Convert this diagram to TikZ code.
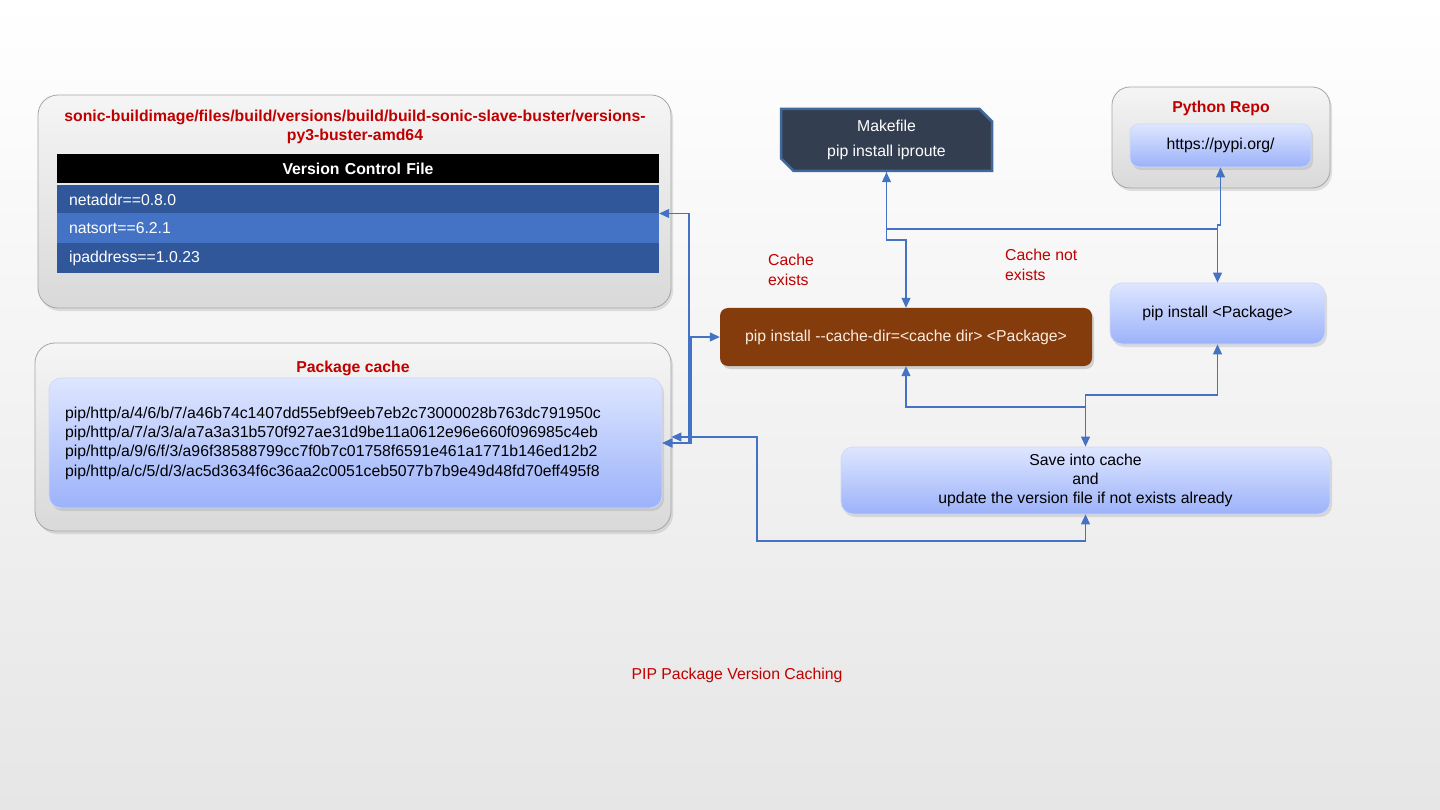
\documentclass[tikz,border=0pt]{standalone}
\usepackage{fontspec}
\setmainfont{Liberation Sans}
\usetikzlibrary{arrows.meta,shapes.misc,shadows}
\definecolor{myred}{HTML}{C00000}
\definecolor{linkblue}{HTML}{4472C4}
\definecolor{bgbot}{HTML}{E6E6E6}
\definecolor{graytop}{HTML}{F5F5F5}
\definecolor{graybot}{HTML}{D9D9D9}
\definecolor{grayline}{HTML}{A6A6A6}
\definecolor{bluetop}{HTML}{DEE6FF}
\definecolor{bluebot}{HTML}{9CB2FA}
\definecolor{blueline}{HTML}{CFD9F7}
\definecolor{rowdark}{HTML}{31579B}
\definecolor{rowlight}{HTML}{4472C4}
\definecolor{makefill}{HTML}{333F50}
\definecolor{makeline}{HTML}{41699E}
\definecolor{brown}{HTML}{843C0C}
\definecolor{peach}{HTML}{FCEBDD}
\begin{document}
\begin{tikzpicture}[x=1pt,y=-1pt,
  txt/.style={font=\fontsize{15.8}{19.3}\selectfont, inner sep=0pt},
  ttl/.style={font=\fontsize{15.8}{19}\selectfont\bfseries, text=myred, align=center, inner sep=0pt},
  lbl/.style={font=\fontsize{15.8}{20}\selectfont, text=myred, align=left, inner sep=0pt, anchor=west},
  graybox/.style={rounded corners=20pt, draw=grayline, line width=0.8pt, top color=graytop, bottom color=graybot,
    drop shadow={opacity=0.22, shadow xshift=2pt, shadow yshift=-3pt}},
  bluebox/.style={txt, rounded corners=12pt, draw=blueline, line width=0.8pt, top color=bluetop, bottom color=bluebot,
    drop shadow={opacity=0.22, shadow xshift=2pt, shadow yshift=-3pt}},
  rowbox/.style={txt, minimum width=602pt, text width=578pt, inner xsep=12pt, inner ysep=0pt, align=left, text=white},
  conn/.style={draw=linkblue, line width=1.1pt},
  >={Triangle[width=9pt,length=10pt]}
]
\useasboundingbox (0,0) rectangle (1440,810);
\shade[top color=white, bottom color=bgbot] (0,0) rectangle (1440,810);

% Version control file group
\node[graybox, minimum width=633pt, minimum height=213pt] (vouter) at (354.5,201.5) {};
\node[ttl] (vtitle) at (355,127) {sonic-buildimage/files/build/versions/build/build-sonic-slave-buster/versions-\\py3-buster-amd64};
\node[rowbox, fill=black, minimum height=29.5pt, align=center, font=\fontsize{15.8}{19}\selectfont\bfseries] (vhdr) at (358,168.75) {Version Control File};
\node[rowbox, fill=rowdark, minimum height=28pt] (vr1) at (358,199.5) {netaddr==0.8.0};
\node[rowbox, fill=rowlight, minimum height=29.5pt] (vr2) at (358,228.25) {natsort==6.2.1};
\node[rowbox, fill=rowdark, minimum height=30pt] (vr3) at (358,258) {ipaddress==1.0.23};
\node[minimum width=602pt, minimum height=119pt, inner sep=0pt] (vtable) at (358,213.5) {};

% Package cache group
\node[graybox, minimum width=636pt, minimum height=188pt] (pkgout) at (353,437) {};
\node[ttl] (pkgtitle) at (353,368.5) {Package cache};
\node[bluebox, minimum width=613pt, minimum height=130pt, text width=581pt, align=left] (pkgin) at (355.5,443) {pip/http/a/4/6/b/7/a46b74c1407dd55ebf9eeb7eb2c73000028b763dc791950c\\pip/http/a/7/a/3/a/a7a3a31b570f927ae31d9be11a0612e96e660f096985c4eb\\pip/http/a/9/6/f/3/a96f38588799cc7f0b7c01758f6591e461a1771b146ed12b2\\pip/http/a/c/5/d/3/ac5d3634f6c36aa2c0051ceb5077b7b9e49d48fd70eff495f8};

% Makefile
\node[chamfered rectangle, chamfered rectangle corners={north east,south west}, chamfered rectangle xsep=9pt,
  draw=makeline, line width=2.5pt, fill=makefill, minimum width=211pt, minimum height=62pt, inner sep=0pt,
  text=white, align=center, font=\fontsize{15.8}{25}\selectfont] (make) at (886.5,140) {\raisebox{-1.5pt}{Makefile}\\\raisebox{-1.5pt}{pip install iproute}};

% Python repo
\node[graybox, rounded corners=18pt, minimum width=218pt, minimum height=101pt] (repo) at (1221,137.5) {};
\node[ttl] (repotitle) at (1221,108) {Python Repo};
\node[bluebox, rounded corners=9pt, minimum width=181pt, minimum height=43pt] (pypi) at (1220.5,145.5) {https://pypi.org/};

% pip install
\node[bluebox, minimum width=215pt, minimum height=61pt] (pipinst) at (1217.5,313.5) {pip install <Package>};

% cache dir
\node[txt, rounded corners=8pt, fill=brown, text=peach, minimum width=372pt, minimum height=58pt,
  drop shadow={opacity=0.3, shadow xshift=2pt, shadow yshift=-3pt}] (cache) at (906,337) {pip install -{}-cache-dir=<cache dir> <Package>};

% save
\node[bluebox, minimum width=489pt, minimum height=67pt, align=center] (save) at (1085.5,480.5) {Save into cache\\and\\update the version file if not exists already};

% labels
\node[lbl] (lblexists) at (768,270) {Cache\\exists};
\node[lbl] (lblnot) at (1005,264.5) {Cache not\\exists};
\node[txt, text=myred] (caption) at (737,675) {PIP Package Version Caching};

% connectors
\draw[conn,<->] (vtable.east) -- (689,213.5) -- (689,443) -- (pkgin.east);
\draw[conn,<->] (cache.west) -- (691,337) |- (pkgin.east);
\draw[conn,<->] (save.south) -- (1085.5,541) -| (757,437) -- (pkgout.east);
\draw[conn,<->] (make.south) -- (886.5,240) -| (cache.north);
\draw[conn,->] (make.south) -- (886.5,229) -- (1217.5,229) -- (pipinst.north);
\draw[conn,->] (1217.5,229) -- (1217.5,225) -- (1220.5,225) -- (pypi.south);
\draw[conn,<->] (cache.south) |- (1085.5,407) -- (save.north);
\draw[conn,<-] (pipinst.south) |- (1085.5,395) -- (1085.5,407);
\end{tikzpicture}
\end{document}
